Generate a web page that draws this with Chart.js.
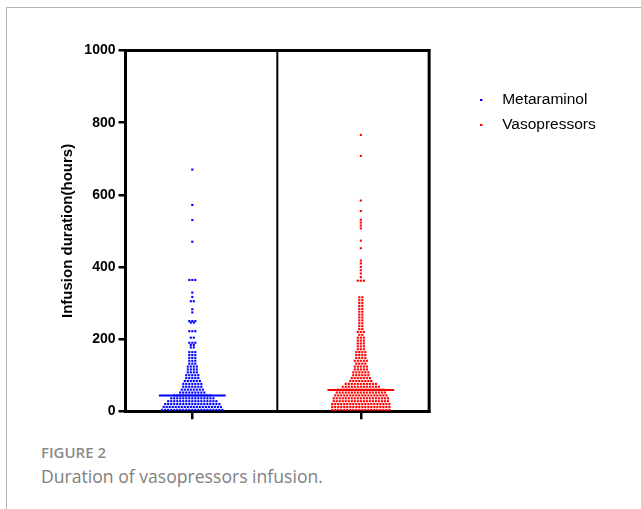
<!DOCTYPE html>
<html>
<head>
<meta charset="utf-8">
<script src="https://cdn.jsdelivr.net/npm/chart.js@4.4.1/dist/chart.umd.min.js"></script>
<style>
body{margin:0;background:#fff;width:641px;height:509px;overflow:hidden;position:relative;font-family:"Open Sans",sans-serif}
#frame{position:absolute;left:6px;top:7px;width:700px;height:600px;border-left:1px solid #b4b4b4;border-top:1px solid #b4b4b4}
#c{position:absolute;left:0;top:0}
#cap1{position:absolute;left:41px;top:445px;font-size:15px;line-height:15px;font-weight:600;color:#8a8a8a}
#cap2{position:absolute;left:41px;top:467px;font-size:17.6px;line-height:18px;color:#808080}
</style>
</head>
<body>
<div id="frame"></div>
<canvas id="c" width="641" height="430"></canvas>
<div id="cap1">FIGURE 2</div>
<div id="cap2">Duration of vasopressors infusion.</div>
<script>
// groups
var groupNames = ['Metaraminol', 'Vasopressors'];
var groupColors = ['#0000ff', '#ff0000'];
var groupCenters = [0.44, 1.55];
var yTicks = [0, 200, 400, 600, 800, 1000];
var medians = [44, 59];

// rows of dots: value (hours) and how many dots sit in that row
var metaRowValues = [4,12,20,28,36,44,52,60,68,76,84,92,100,108,116,124,132,140,148,156,164,177,184,190,204,222,246,250,274,283,305,317,329,364,470,530,572,670];
var metaRowCounts = [21,20,19,17,15,13,9,8,7,7,6,5,5,4,4,4,3,3,3,3,3,2,2,3,2,3,2,3,1,1,2,1,1,3,1,1,1,1];

var vasoRowValues = [4,12,20,28,36,44,52,60,68,76,84,92,100,108,116,124,132,140,148,156,164,172,180,188,196,204,212,220,228,236,244,252,260,268,276,284,292,300,308,316,362,372,382,391,400,410,418,452,473,507,515,523,531,555,584,708,766];
var vasoRowCounts = [20,20,20,19,19,18,17,16,13,11,8,7,6,6,5,5,4,5,4,4,4,3,3,3,3,3,2,3,2,2,2,2,2,2,2,2,2,2,2,2,3,1,1,1,1,1,1,1,1,1,1,1,1,1,1,1,1];

var dotGap = 3 / 151.25;   // x units between neighbouring dots in a row
var medianHalf = 0.22;

function swarm(center, vals, counts) {
    var pts = [];
    for (var r = 0; r < vals.length; r++) {
        var n = counts[r];
        for (var i = 0; i < n; i++) {
            pts.push({x: center + (i - (n - 1) / 2) * dotGap, y: vals[r]});
        }
    }
    return pts;
}

function legendDot(color) {
    // strip as wide as the legend box, little square at its left end
    var c = document.createElement('canvas');
    c.width = 14; c.height = 2;
    var g = c.getContext('2d');
    g.fillStyle = color;
    g.fillRect(0, 0, 2, 2);
    return c;
}

var framePlugin = {
    id: 'frame',
    afterDraw: function (chart) {
        var ctx = chart.ctx, a = chart.chartArea;
        ctx.save();
        ctx.strokeStyle = '#000';
        ctx.lineWidth = 3;
        ctx.beginPath();
        ctx.moveTo(a.left - 1.5, a.top);
        ctx.lineTo(a.right, a.top);
        ctx.lineTo(a.right, a.bottom + 1.5);
        ctx.stroke();
        var xd = chart.scales.x.getPixelForValue(1);
        ctx.lineWidth = 2;
        ctx.beginPath();
        ctx.moveTo(xd, a.top);
        ctx.lineTo(xd, a.bottom);
        ctx.stroke();
        ctx.restore();
    }
};

Chart.defaults.font.family = 'Liberation Sans';

var datasets = [
    {
        label: groupNames[0],
        data: swarm(groupCenters[0], metaRowValues, metaRowCounts),
        backgroundColor: groupColors[0],
        pointStyle: 'rect', pointRadius: 1.5, pointBorderWidth: 0, clip: false
    },
    {
        label: groupNames[1],
        data: swarm(groupCenters[1], vasoRowValues, vasoRowCounts),
        backgroundColor: groupColors[1],
        pointStyle: 'rect', pointRadius: 1.5, pointBorderWidth: 0, clip: false
    }
];
for (var k = 0; k < 2; k++) {
    datasets.push({
        type: 'line',
        label: 'median ' + groupNames[k],
        data: [{x: groupCenters[k] - medianHalf, y: medians[k]}, {x: groupCenters[k] + medianHalf, y: medians[k]}],
        borderColor: groupColors[k],
        borderWidth: 2,
        pointRadius: 0,
        showLine: true,
        clip: false
    });
}

var myChart = new Chart(document.getElementById('c').getContext('2d'), {
    type: 'scatter',
    data: {datasets: datasets},
    plugins: [framePlugin],
    options: {
        responsive: false,
        animation: false,
        devicePixelRatio: 1,
        layout: {padding: {left: 0, top: 50.5, right: 35.25, bottom: 0}},
        plugins: {
            tooltip: {enabled: false},
            legend: {
                position: 'right',
                align: 'start',
                title: {display: true, text: '', font: {size: 10, lineHeight: 1}, padding: {top: 21.75, bottom: 0}},
                labels: {
                    usePointStyle: true,
                    pointStyleWidth: 14,
                    boxHeight: 2,
                    padding: 9.5,
                    color: '#000',
                    font: {size: 15.5},
                    filter: function (item) { return item.datasetIndex < 2; },
                    generateLabels: function (chart) {
                        var items = Chart.defaults.plugins.legend.labels.generateLabels(chart);
                        items.forEach(function (it) {
                            if (it.datasetIndex < 2) it.pointStyle = legendDot(groupColors[it.datasetIndex]);
                        });
                        return items;
                    }
                }
            }
        },
        scales: {
            x: {
                type: 'linear',
                min: 0,
                max: 2,
                afterBuildTicks: function (s) { s.ticks = groupCenters.map(function (v) { return {value: v}; }); },
                afterFit: function (s) { s.height = 18.7; },
                ticks: {display: false},
                grid: {drawOnChartArea: false, drawTicks: true, tickLength: 8, color: '#000', lineWidth: 2.5},
                border: {color: '#000', width: 3}
            },
            y: {
                min: 0,
                max: 1000,
                afterBuildTicks: function (s) { s.ticks = yTicks.map(function (v) { return {value: v}; }); },
                afterFit: function (s) { s.width = 125.5; },
                ticks: {color: '#000', padding: 3, font: {size: 14, weight: 'bold'}, callback: function (v) { return String(v); }},
                grid: {drawOnChartArea: false, drawTicks: true, tickLength: 7, color: '#000', lineWidth: 2.5},
                border: {color: '#000', width: 3},
                title: {display: true, text: 'Infusion duration(hours)', color: '#000', font: {size: 15, weight: 'bold'}, padding: {top: 59, bottom: 0}}
            },
            yR: {
                // empty gap between the plot box and the legend
                position: 'right',
                display: false,
                afterFit: function (s) { s.width = 41.75; }
            }
        }
    }
});
</script>
</body>
</html>
